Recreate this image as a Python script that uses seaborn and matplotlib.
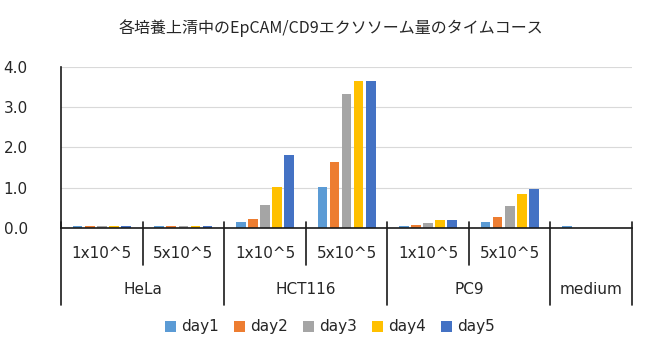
import matplotlib
matplotlib.use('Agg')

import pandas as pd
import matplotlib.pyplot as plt
import matplotlib.transforms as mtransforms
import seaborn as sns
import numpy as np

# --- データ ---
groups = ['HeLa', 'HeLa', 'HCT116', 'HCT116', 'PC9', 'PC9', 'medium']
cells = ['1x10^5', '5x10^5', '1x10^5', '5x10^5', '1x10^5', '5x10^5', '']
days = ['day1', 'day2', 'day3', 'day4', 'day5']
day1 = [0.05, 0.05, 0.14, 1.03, 0.05, 0.15, 0.05]
day2 = [0.05, 0.05, 0.22, 1.64, 0.07, 0.28, np.nan]
day3 = [0.05, 0.05, 0.58, 3.33, 0.13, 0.55, np.nan]
day4 = [0.05, 0.05, 1.03, 3.64, 0.19, 0.84, np.nan]
day5 = [0.05, 0.05, 1.81, 3.64, 0.21, 0.97, np.nan]
colors = ['#5B9BD5', '#ED7D31', '#A5A5A5', '#FFC000', '#4472C4']

TEXT = '#262626'
LATIN = ['DejaVu Sans']
sns.set_theme(style='white')
plt.rcParams['font.family'] = ['DejaVu Sans', 'Noto Sans CJK JP']

keys = [f'{g} {c}' for g, c in zip(groups, cells)]
rows = []
for d, vals in zip(days, [day1, day2, day3, day4, day5]):
    for k, v in zip(keys, vals):
        rows.append({'cat': k, 'day': d, 'value': v})
df = pd.DataFrame(rows)

fig = plt.figure(figsize=(6.47, 3.56), dpi=100)
ax = fig.add_axes([0.0943, 0.3596, 0.8826, 0.4522])

sns.barplot(data=df, x='cat', y='value', hue='day', order=keys, hue_order=days,
            palette=colors, width=0.74, gap=0.2, ax=ax, legend=True,
            saturation=1, edgecolor='none')

ax.set_ylim(0, 4.0)
ax.set_xlim(-0.5, len(keys) - 0.5)
ax.set_yticks(np.arange(0, 4.01, 1.0))
ax.set_yticklabels([f'{t:.1f}' for t in np.arange(0, 4.01, 1.0)], fontsize=11, color=TEXT)
ax.tick_params(axis='y', length=0, pad=24)
ax.set_xticks([])
ax.set_xlabel('')
ax.set_ylabel('')
ax.grid(axis='y', color='#D9D9D9', lw=0.8)
ax.set_axisbelow(True)
for s in ['top', 'right']:
    ax.spines[s].set_visible(False)
for s in ['left', 'bottom']:
    ax.spines[s].set_color('#1a1a1a')
    ax.spines[s].set_linewidth(1.2)

# --- 多段カテゴリ軸 ---
trans = mtransforms.blended_transform_factory(ax.transData, fig.transFigure)
y_axis = 0.3596
y_top = y_axis + 6 / 356
y_short = 1 - 265 / 356
y_long = 1 - 305 / 356
n = len(keys)
for i in range(n + 1):
    x = i - 0.5
    boundary = i == 0 or i == n or groups[i] != groups[i - 1]
    ax.plot([x, x], [y_top, y_long if boundary else y_short], transform=trans,
            color='#1a1a1a', lw=1.2, clip_on=False)
for i, c in enumerate(cells):
    if c:
        ax.text(i, 1 - 253 / 356, c, transform=trans, ha='center', va='center',
                fontsize=11, color=TEXT)
start = 0
for i in range(1, n + 1):
    if i == n or groups[i] != groups[start]:
        ax.text((start + i - 1) / 2, 1 - 290 / 356, groups[start], transform=trans,
                ha='center', va='center', fontsize=11, color=TEXT)
        start = i

ax.legend(loc='center', bbox_to_anchor=(330 / 647, 1 - 327 / 356),
          bbox_transform=fig.transFigure, ncol=5, frameon=False, fontsize=11,
          handlelength=0.7, handleheight=0.7, handletextpad=0.35, columnspacing=1.0,
          labelcolor=TEXT)

fig.text(0.511, 1 - 28 / 356, '各培養上清中のEpCAM/CD9エクソソーム量のタイムコース',
         ha='center', va='center', fontsize=11.5, color=TEXT,
         family=['Noto Sans CJK JP', 'DejaVu Sans'])

fig.savefig('out.png', dpi=100)
